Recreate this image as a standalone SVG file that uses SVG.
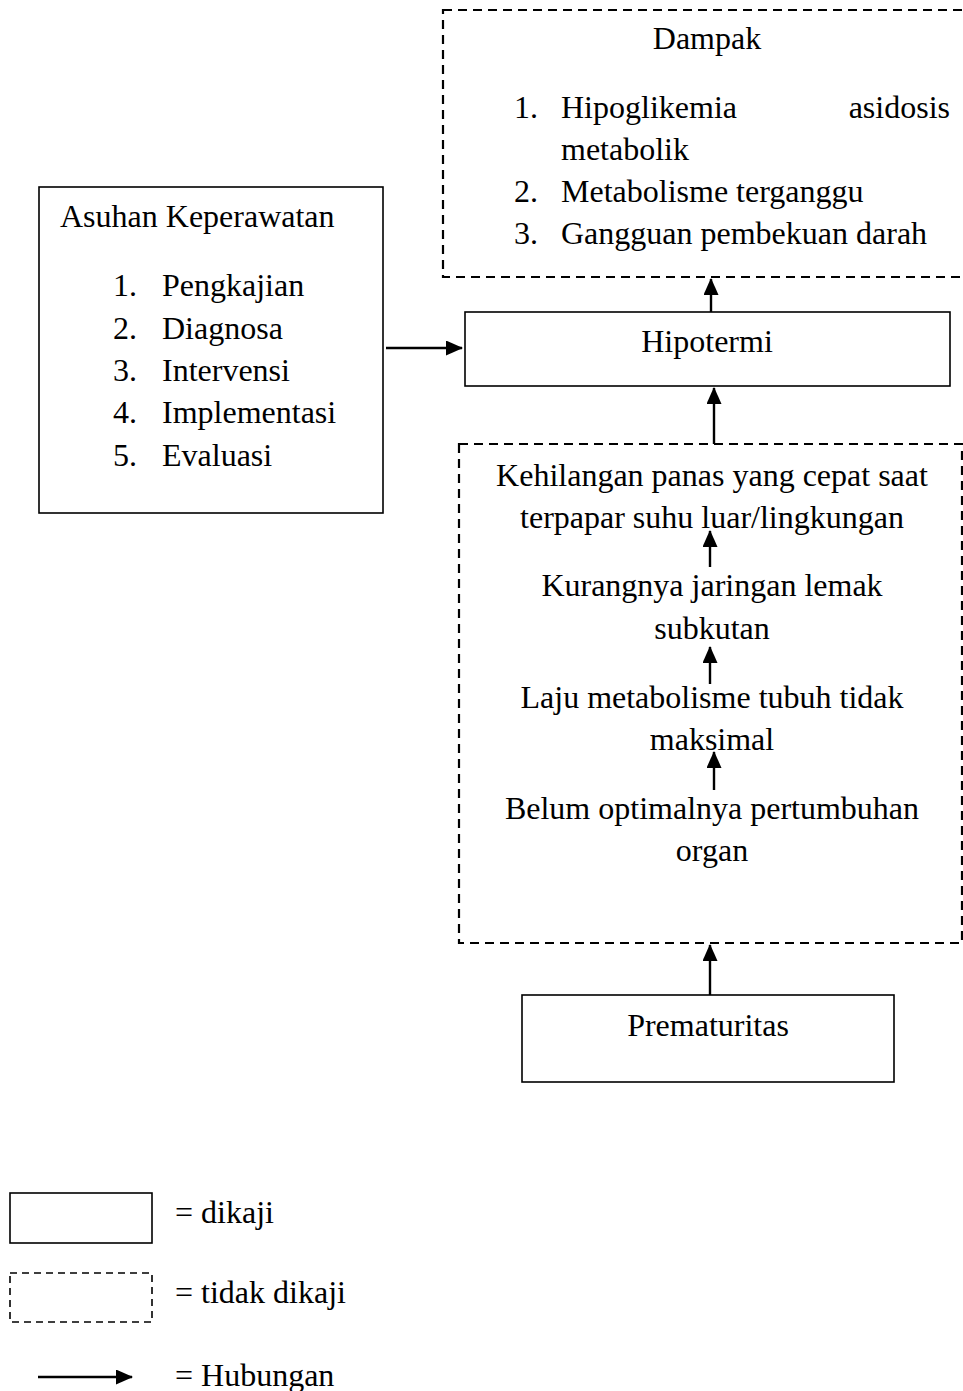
<svg xmlns="http://www.w3.org/2000/svg" width="963" height="1391" viewBox="0 0 963 1391">
<style>
text{font-family:"Liberation Serif","Times New Roman",serif;font-size:32px;fill:#000}
.c{text-anchor:middle}
.e{text-anchor:end}
.solid{fill:#fff;stroke:#000;stroke-width:1.6}
.dash{fill:none;stroke:#000;stroke-width:2.2;stroke-dasharray:9 6}
.con{stroke:#000;stroke-width:2.4;fill:none;marker-end:url(#ah)}
</style>
<defs>
<marker id="ah" markerUnits="userSpaceOnUse" markerWidth="17" markerHeight="15" refX="16" refY="7.5" orient="auto">
<path d="M0,0 L17,7.5 L0,15 Z" fill="#000"/>
</marker>
</defs>
<rect width="963" height="1391" fill="#fff"/>
<g id="dampak">
<rect class="dash" x="443" y="10" width="560" height="267"/>
<text class="c" x="707" y="49">Dampak</text>
<text x="514" y="118">1.</text><text x="561" y="118">Hipoglikemia</text><text class="e" x="950" y="118">asidosis</text>
<text x="561" y="160">metabolik</text>
<text x="514" y="202">2.</text><text x="561" y="202">Metabolisme terganggu</text>
<text x="514" y="244">3.</text><text x="561" y="244">Gangguan pembekuan darah</text>
</g>
<g id="asuhan">
<rect class="solid" x="39" y="187" width="344" height="326"/>
<text x="60" y="227">Asuhan Keperawatan</text>
<text x="113" y="296">1.</text><text x="162" y="296">Pengkajian</text>
<text x="113" y="339">2.</text><text x="162" y="339">Diagnosa</text>
<text x="113" y="381">3.</text><text x="162" y="381">Intervensi</text>
<text x="113" y="423">4.</text><text x="162" y="423">Implementasi</text>
<text x="113" y="466">5.</text><text x="162" y="466">Evaluasi</text>
</g>
<g id="hipotermi">
<rect class="solid" x="465" y="312" width="485" height="74"/>
<text class="c" x="707" y="352">Hipotermi</text>
</g>
<g id="penyebab">
<rect class="dash" x="459" y="444" width="503" height="499"/>
<text class="c" x="712" y="486">Kehilangan panas yang cepat saat</text>
<text class="c" x="712" y="528">terpapar suhu luar/lingkungan</text>
<text class="c" x="712" y="596">Kurangnya jaringan lemak</text>
<text class="c" x="712" y="639">subkutan</text>
<text class="c" x="712" y="708">Laju metabolisme tubuh tidak</text>
<text class="c" x="712" y="750">maksimal</text>
<text class="c" x="712" y="819">Belum optimalnya pertumbuhan</text>
<text class="c" x="712" y="861">organ</text>
</g>
<g id="prematuritas">
<rect class="solid" x="522" y="995" width="372" height="87"/>
<text class="c" x="708" y="1036">Prematuritas</text>
</g>
<g id="legend">
<rect class="solid" x="10" y="1193" width="142" height="50"/>
<text x="175" y="1223">= dikaji</text>
<rect class="dash" x="10" y="1273" width="142" height="49" style="stroke-width:1.6;stroke-dasharray:7 5"/>
<text x="175" y="1303">= tidak dikaji</text>
<line class="con" x1="38" y1="1377" x2="132" y2="1377"/>
<text x="175" y="1386">= Hubungan</text>
</g>
<g id="connectors">
<line class="con" x1="386" y1="348" x2="462" y2="348"/>
<line class="con" x1="711" y1="312" x2="711" y2="279"/>
<line class="con" x1="714" y1="444" x2="714" y2="388"/>
<line class="con" x1="710" y1="567" x2="710" y2="531"/>
<line class="con" x1="710" y1="684" x2="710" y2="647"/>
<line class="con" x1="714" y1="790" x2="714" y2="752"/>
<line class="con" x1="710" y1="995" x2="710" y2="945"/>
</g>
</svg>
